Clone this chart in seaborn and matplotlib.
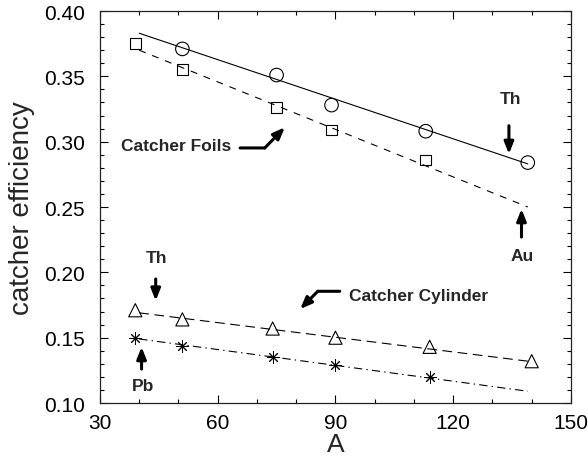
import matplotlib
matplotlib.use("Agg")
import matplotlib.pyplot as plt
import seaborn as sns
from matplotlib.ticker import MultipleLocator, FormatStrFormatter

# Measured catcher efficiencies versus mass number A
A_foil_th = [51, 75, 89, 113, 139]
eff_foil_th = [0.371, 0.351, 0.328, 0.308, 0.284]

A_foil_au = [39, 51, 75, 89, 113]
eff_foil_au = [0.375, 0.355, 0.326, 0.309, 0.286]

A_cyl_th = [39, 51, 74, 90, 114, 140]
eff_cyl_th = [0.171, 0.164, 0.157, 0.150, 0.143, 0.132]

A_cyl_pb = [39, 51, 74, 90, 114]
eff_cyl_pb = [0.150, 0.144, 0.135, 0.129, 0.120]

# Linear fits (end points)
fit_A = [40, 139]
fit_foil_th = [0.383, 0.283]
fit_foil_au = [0.370, 0.250]
fit_cyl_th = [0.169, 0.132]
fit_cyl_pb = [0.149, 0.109]

sns.set_style("ticks")
plt.rcParams["font.family"] = ["Liberation Sans", "DejaVu Sans"]
plt.rcParams["lines.scale_dashes"] = False

fig = plt.figure(figsize=(5.88, 4.64), dpi=100)
ax = fig.add_axes([0.170, 0.1293, 0.801, 0.8448])

lw = 0.8
# fit lines
for y, ls in [
    (fit_foil_th, "-"),
    (fit_foil_au, (0, (5, 5))),
    (fit_cyl_th, (0, (7, 4))),
    (fit_cyl_pb, (0, (6, 3, 1, 3))),
]:
    sns.lineplot(x=fit_A, y=y, ax=ax, color="black", lw=lw, linestyle=ls)

# data points
sns.scatterplot(x=A_foil_th, y=eff_foil_th, ax=ax, marker="o", s=95,
                facecolor="none", edgecolor="black", linewidth=0.8, zorder=3)
sns.scatterplot(x=A_foil_au, y=eff_foil_au, ax=ax, marker="s", s=60,
                facecolor="none", edgecolor="black", linewidth=0.8, zorder=3)
sns.scatterplot(x=A_cyl_th, y=eff_cyl_th, ax=ax, marker="^", s=90,
                facecolor="none", edgecolor="black", linewidth=0.8, zorder=3)
sns.scatterplot(x=A_cyl_pb, y=eff_cyl_pb, ax=ax, marker=(8, 2, 0), s=70,
                color="black", linewidth=0.7, zorder=3)

ax.set_xlim(30, 150)
ax.set_ylim(0.10, 0.40)
ax.xaxis.set_major_locator(MultipleLocator(30))
ax.xaxis.set_minor_locator(MultipleLocator(10))
ax.yaxis.set_major_locator(MultipleLocator(0.05))
ax.yaxis.set_minor_locator(MultipleLocator(0.01))
ax.yaxis.set_major_formatter(FormatStrFormatter("%.2f"))
ax.tick_params(which="both", direction="in", top=True, right=True,
               labelsize=15, width=0.8, colors="black")
ax.tick_params(which="major", length=6)
ax.tick_params(which="minor", length=3)
ax.tick_params(axis="y", which="major", pad=11)
ax.tick_params(axis="x", which="major", pad=7)
for sp in ax.spines.values():
    sp.set_linewidth(0.9)
    sp.set_color("#222222")

ax.set_xlabel("A", fontsize=19, labelpad=0)
ax.set_ylabel("catcher efficiency", fontsize=20, labelpad=6)

bold = dict(fontsize=12.5, fontweight="bold", ha="center", va="center")
arrow = dict(arrowstyle="-|>,head_length=0.7,head_width=0.28", color="black",
             lw=2.2, shrinkA=0, shrinkB=0)
plain = dict(arrowstyle="-", color="black", lw=2.2, shrinkA=0, shrinkB=0)

# Catcher Foils label with bent arrow
ax.text(49.5, 0.2969, "Catcher Foils", **bold)
ax.annotate("", xy=(72.0, 0.2952), xytext=(65.7, 0.2952), arrowprops=plain)
ax.annotate("", xy=(77.1, 0.3110), xytext=(72.0, 0.2952), arrowprops=arrow)

# Catcher Cylinder label with bent arrow
ax.text(93.4, 0.1821, "Catcher Cylinder", fontsize=12.5, fontweight="bold",
        ha="left", va="center")
ax.annotate("", xy=(85.5, 0.1855), xytext=(91.1, 0.1855), arrowprops=plain)
ax.annotate("", xy=(81.0, 0.1719), xytext=(85.5, 0.1855), arrowprops=arrow)

# Target labels
ax.text(134.5, 0.3327, "Th", **bold)
ax.annotate("", xy=(134.2, 0.2906), xytext=(134.2, 0.3122), arrowprops=arrow)

ax.text(137.5, 0.2127, "Au", **bold)
ax.annotate("", xy=(137.4, 0.2485), xytext=(137.4, 0.2270), arrowprops=arrow)

ax.text(44.3, 0.2115, "Th", **bold)
ax.annotate("", xy=(44.2, 0.1783), xytext=(44.2, 0.1949), arrowprops=arrow)

ax.text(41.0, 0.1133, "Pb", **bold)
ax.annotate("", xy=(40.6, 0.1429), xytext=(40.6, 0.1260), arrowprops=arrow)

fig.savefig("out.png", dpi=100)
